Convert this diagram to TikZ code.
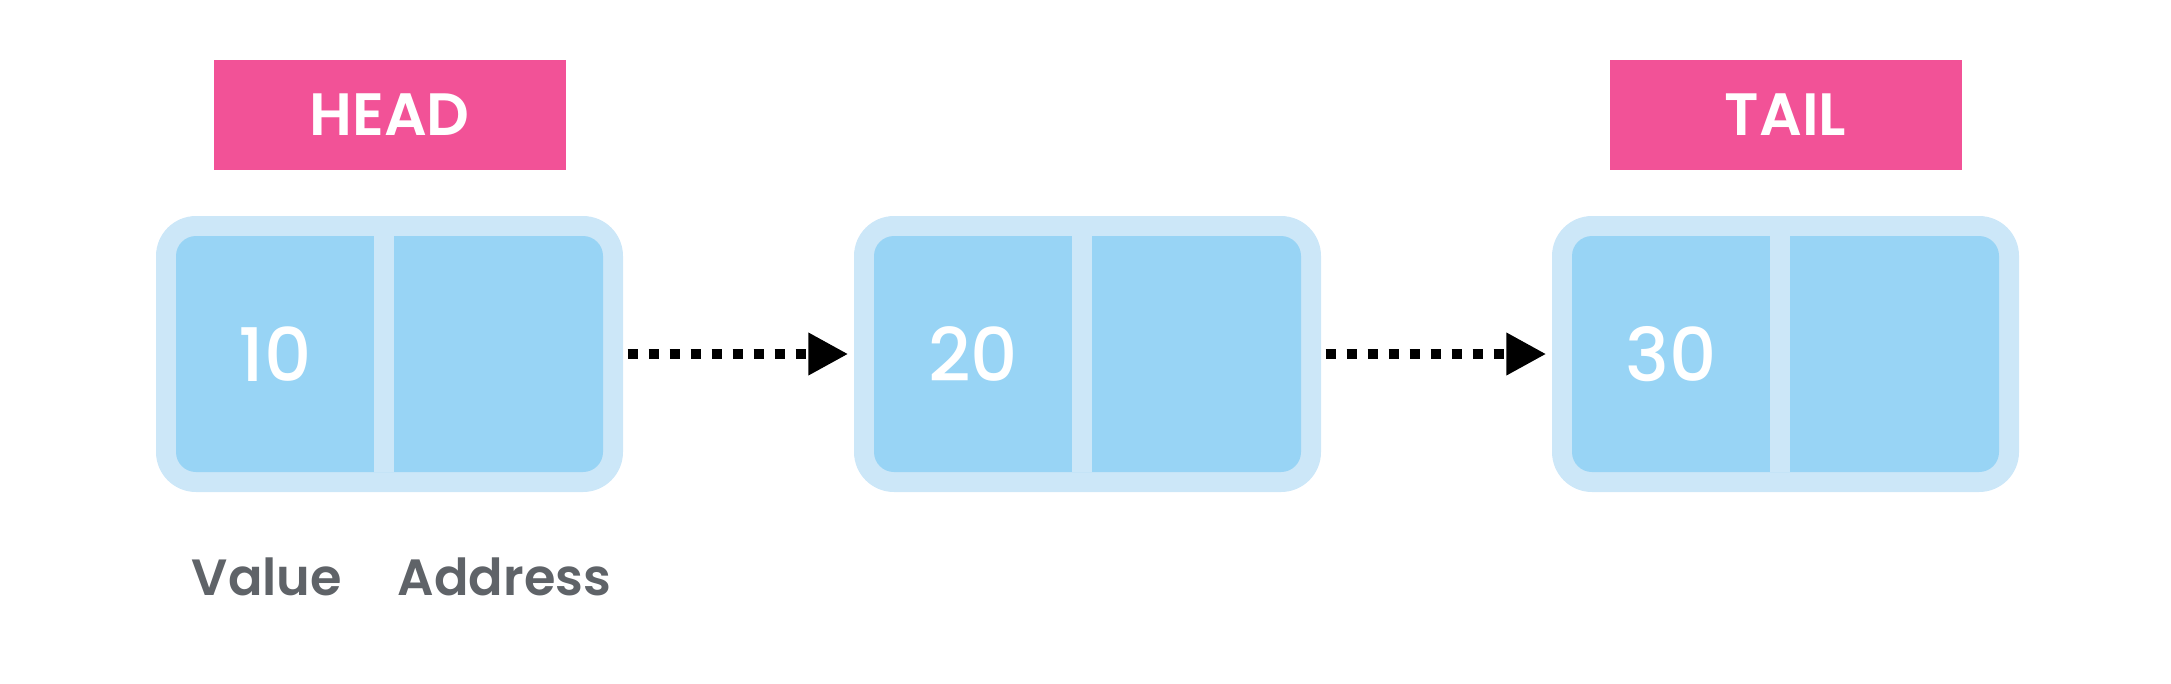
\documentclass[tikz,border=0pt]{standalone}
\usepackage{fontspec}
\setmainfont{Poppins}
\newfontfamily\popsemi{Poppins SemiBold}
\newfontfamily\popmed{Poppins Medium}
\usepackage{xcolor}
\usepackage{tikz}
\usetikzlibrary{arrows.meta, positioning, calc}

\definecolor{tagpink}{HTML}{F25297}
\definecolor{rimblue}{HTML}{CCE7F8}
\definecolor{cellblue}{HTML}{98D4F5}
\definecolor{lblgray}{HTML}{5F6368}

\begin{document}
\begin{tikzpicture}

% ---- Styles -----------------------------------------------------------------
\tikzset{
  rim/.style={fill=rimblue, minimum width=4.67cm, minimum height=2.76cm,
              rounded corners=0.4cm, inner sep=0pt},
  cellpair/.style={fill=cellblue, minimum width=4.27cm, minimum height=2.36cm,
                   rounded corners=0.2cm, inner sep=0pt},
  divider/.style={fill=rimblue, minimum width=0.2cm, minimum height=2.36cm,
                  inner sep=0pt},
  val/.style={text=white, font=\popmed\fontsize{21}{24}\selectfont},
  tag/.style={fill=tagpink, text=white, minimum width=3.52cm, minimum height=1.1cm,
              inner sep=0pt, font=\popsemi\fontsize{17}{20}\selectfont},
  lbl/.style={text=lblgray, anchor=base, inner sep=0pt,
              font=\popsemi\fontsize{14.5}{17}\selectfont},
  link/.style={line width=0.1cm, dash pattern=on 0.1cm off 0.11cm,
               -{Triangle[length=0.4cm, width=0.4cm]},
               shorten <=0.04cm, shorten >=0.05cm},
}

\def\VX{-1.145} % value cell offset
\def\DX{-0.055} % divider offset

\useasboundingbox (0,0) rectangle (21.71,6.83);

% ---- Node 1 -----------------------------------------------------------------
\node[rim] (n1) at (3.895,3.29) {};
\node[cellpair] (c1) at (n1.center) {};
\node[divider] (d1) at ($(n1.center)+(\DX,0)$) {};
\node[val] (v1) at ($(n1.center)+(\VX,0)$) {10};

% ---- Node 2 -----------------------------------------------------------------
\node[rim] (n2) at (10.875,3.29) {};
\node[cellpair] (c2) at (n2.center) {};
\node[divider] (d2) at ($(n2.center)+(\DX,0)$) {};
\node[val] (v2) at ($(n2.center)+(\VX,0)$) {20};

% ---- Node 3 -----------------------------------------------------------------
\node[rim] (n3) at (17.855,3.29) {};
\node[cellpair] (c3) at (n3.center) {};
\node[divider] (d3) at ($(n3.center)+(\DX,0)$) {};
\node[val] (v3) at ($(n3.center)+(\VX,0)$) {30};

% ---- Head / tail tags -------------------------------------------------------
\node[tag, above=0.45cm of n1] (head) {HEAD};
\node[tag, above=0.45cm of n3] (tail) {TAIL};

% ---- Links ------------------------------------------------------------------
\draw[link] (n1.east) -- (n2.west);
\draw[link] (n2.east) -- (n3.west);

% ---- Field labels -----------------------------------------------------------
\node[lbl] (lval) at (2.67,0.88) {Value};
\node[lbl] (ladr) at (5.045,0.88) {Address};

\end{tikzpicture}
\end{document}
